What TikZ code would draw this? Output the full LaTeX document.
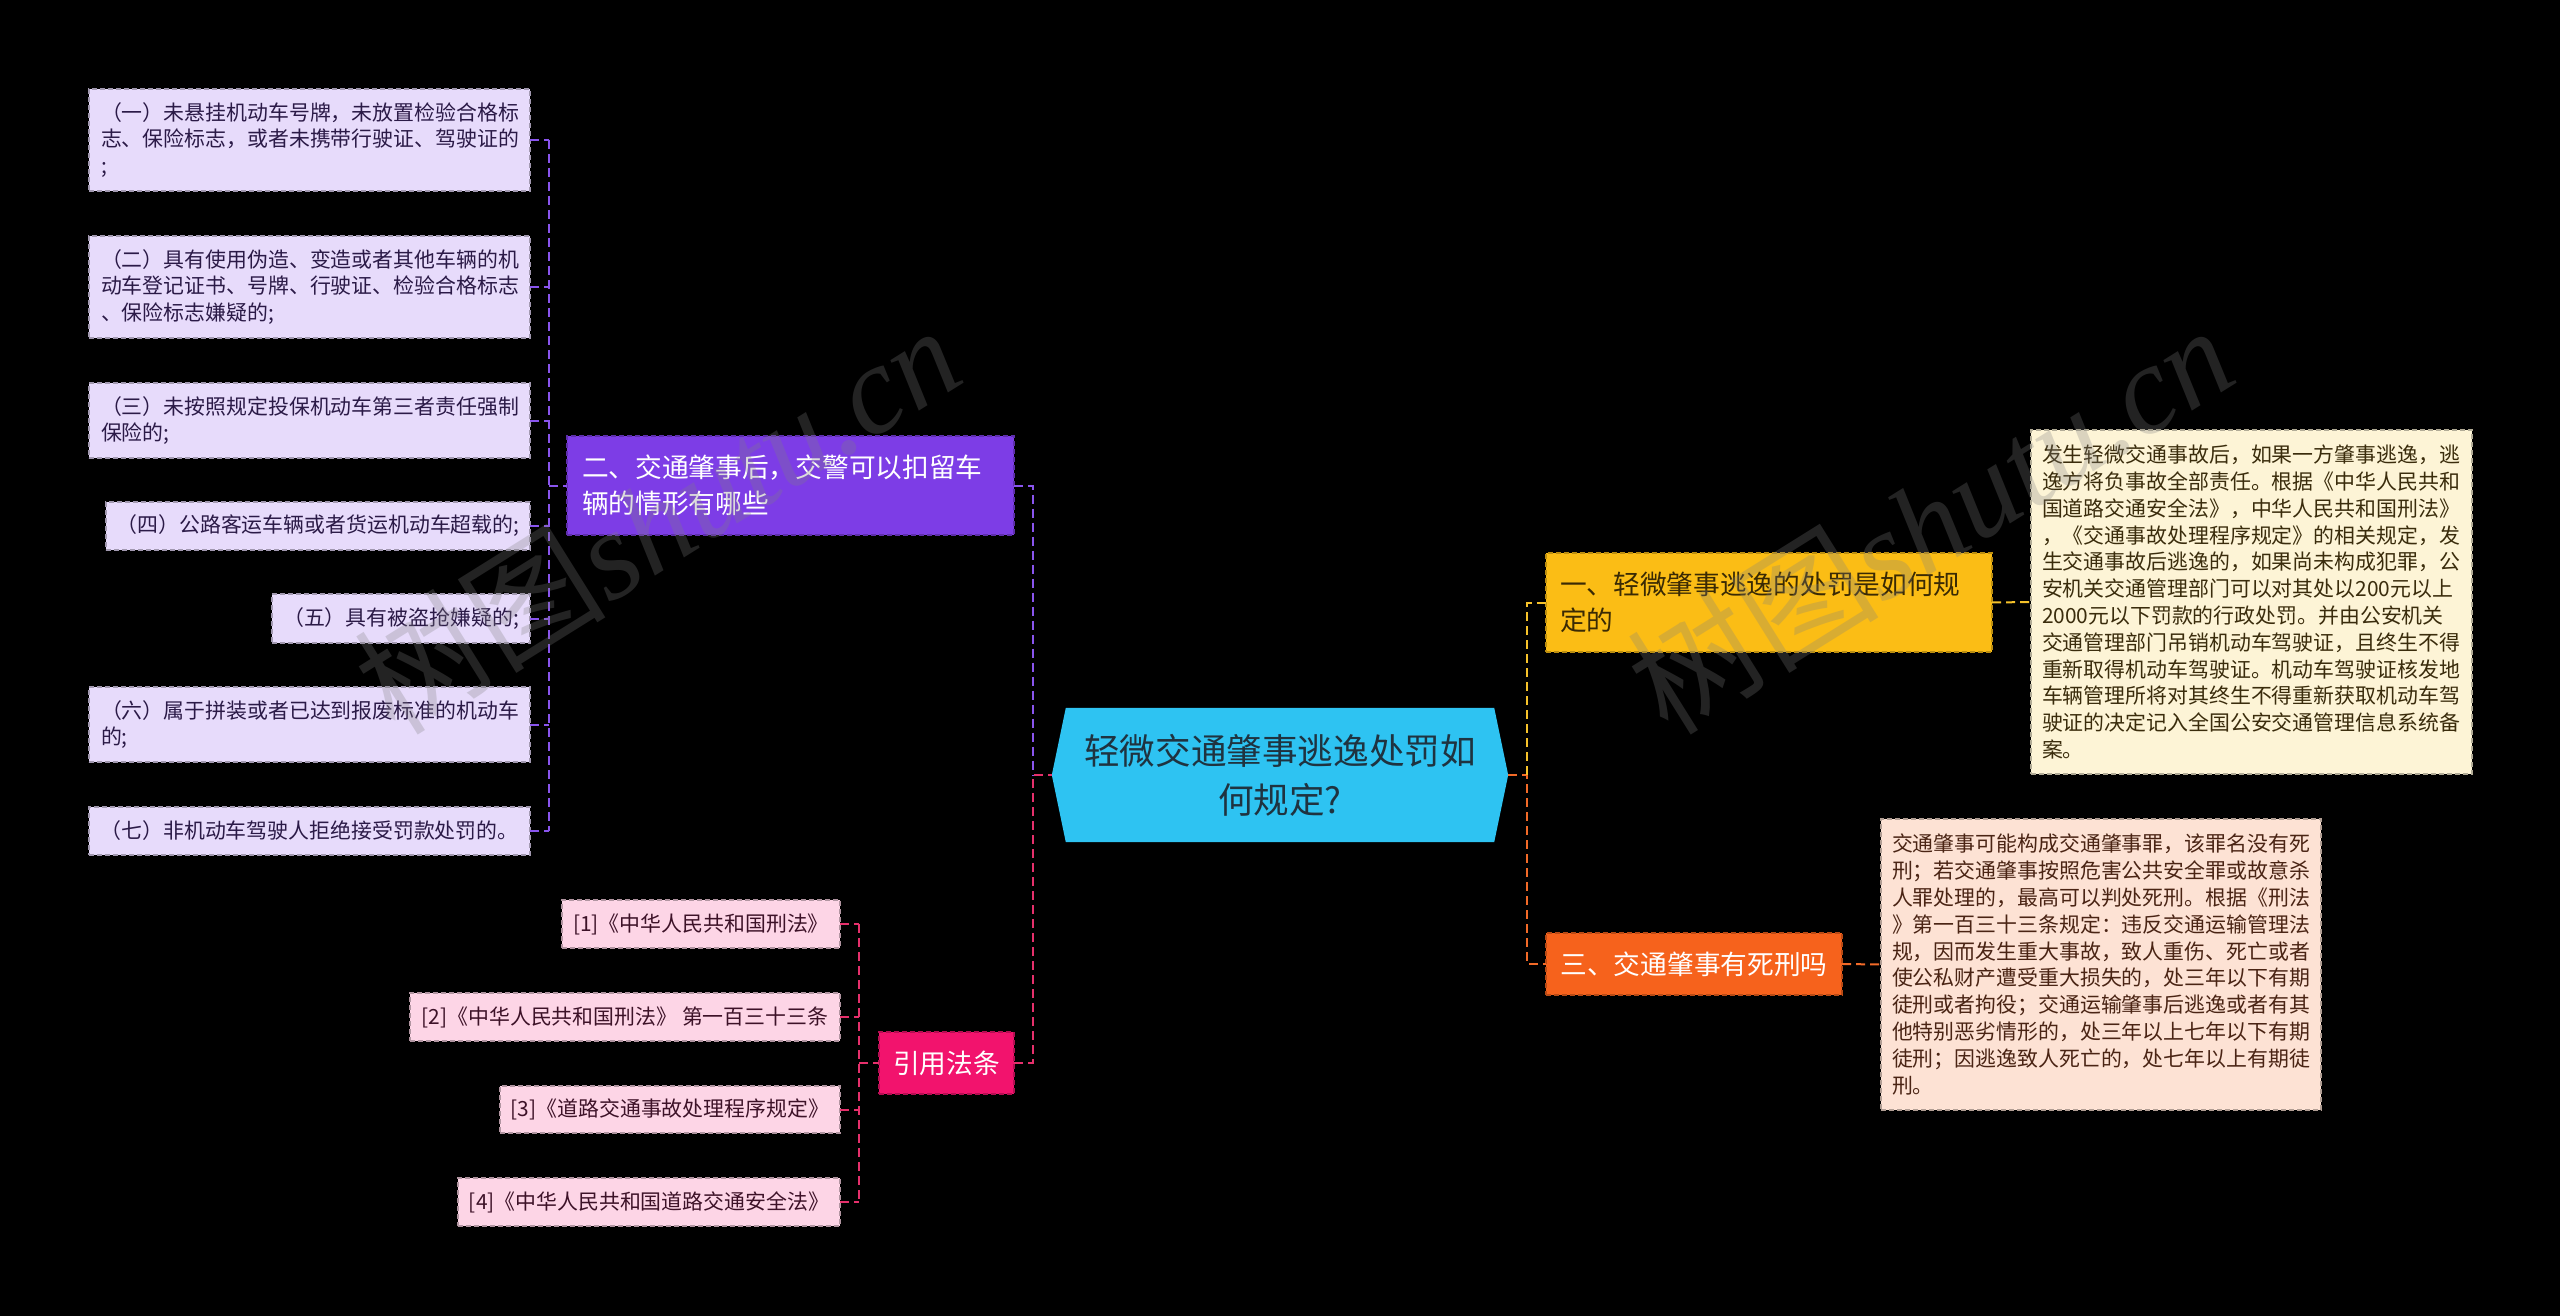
\documentclass[tikz,border=0pt]{standalone}
\usepackage{fontspec}
\setmainfont{Noto Sans CJK SC}
\newfontfamily\wmlatin{Liberation Serif}
\usetikzlibrary{calc}
\pgfdeclarelayer{bg}
\pgfsetlayers{bg,main}
\definecolor{rootF}{HTML}{2EC3F2}
\definecolor{rootT}{HTML}{1F3340}
\definecolor{purF}{HTML}{7D3DE6}
\definecolor{lavF}{HTML}{E7DBFB}
\definecolor{lavT}{HTML}{2B1A47}
\definecolor{pinkF}{HTML}{F2136D}
\definecolor{rosF}{HTML}{FDD5E6}
\definecolor{rosT}{HTML}{3D1228}
\definecolor{goldF}{HTML}{FBBD15}
\definecolor{goldT}{HTML}{3A2A04}
\definecolor{creF}{HTML}{FDF4D6}
\definecolor{creT}{HTML}{3A2C0C}
\definecolor{oraF}{HTML}{F6621C}
\definecolor{peaF}{HTML}{FDE2D4}
\definecolor{peaT}{HTML}{4A2414}
\definecolor{cP}{HTML}{8A55EE}
\definecolor{cK}{HTML}{E6306C}
\definecolor{cY}{HTML}{F6C22A}
\definecolor{cO}{HTML}{F26A28}
\newcommand\myfsS{\fontsize{20.9pt}{26.8pt}\selectfont}
\newcommand\myfsM{\fontsize{26.7pt}{36pt}\selectfont}
\newcommand\myfsL{\fontsize{35.6pt}{49pt}\selectfont}
\tikzset{
  boxbase/.style={dash pattern=on 5pt off 3pt, line width=1.2pt, inner ysep=0pt, outer sep=0pt},
  leafp/.style={boxbase, fill=lavF, draw=lavF!70!black, text=lavT, font=\myfsS, inner xsep=12pt, align=left, anchor=north west},
  leafpc/.style={boxbase, fill=lavF, draw=lavF!70!black, text=lavT, font=\myfsS, inner xsep=0pt, align=center, anchor=north west},
  refbox/.style={boxbase, fill=rosF, draw=rosF!70!black, text=rosT, font=\myfsS, inner xsep=0pt, align=center, anchor=north east},
  mainbox/.style={boxbase, font=\myfsM, align=left, anchor=north west},
  detbox/.style={boxbase, font=\myfsS, inner xsep=11pt, align=left, anchor=north west},
  conn/.style={line width=2pt, dash pattern=on 9pt off 5pt},
  wmark/.style={rotate=32, text=gray, text opacity=0.28, font=\fontsize{126pt}{126pt}\selectfont}
}
\begin{document}
\begin{tikzpicture}[x=1pt,y=-1pt]
\begin{pgfonlayer}{bg}
\fill[black] (0,0) rectangle (2560,1316);
\end{pgfonlayer}
\useasboundingbox (0,0) rectangle (2560,1316);

% root
\node[font=\myfsL, text=rootT, align=center, minimum width=456pt, minimum height=134pt, inner sep=0pt] (root) at (1280,775) {轻微交通肇事逃逸处罚如\\何规定?};
\begin{pgfonlayer}{bg}
\fill[rootF] (root.west) -- ($(root.north west)+(14,0)$) -- ($(root.north east)+(-14,0)$) -- (root.east) -- ($(root.south east)+(-14,0)$) -- ($(root.south west)+(14,0)$) -- cycle;
\end{pgfonlayer}

% left purple branch
\node[mainbox, fill=purF, draw=purF!75!black, text=white, inner xsep=15pt, text width=417pt, minimum height=99pt] (n2) at (567,436) {二、交通肇事后，交警可以扣留车\\辆的情形有哪些};

\node[leafp, text width=417pt, minimum height=102pt] (l1) at (89,89) {（一）未悬挂机动车号牌，未放置检验合格标\\志、保险标志，或者未携带行驶证、驾驶证的\\;};
\node[leafp, text width=417pt, minimum height=102pt] (l2) at (89,236) {（二）具有使用伪造、变造或者其他车辆的机\\动车登记证书、号牌、行驶证、检验合格标志\\、保险标志嫌疑的;};
\node[leafp, text width=417pt, minimum height=75pt] (l3) at (89,383) {（三）未按照规定投保机动车第三者责任强制\\保险的;};
\node[leafpc, minimum width=424pt, minimum height=48pt] (l4) at (106,502) {（四）公路客运车辆或者货运机动车超载的;};
\node[leafpc, minimum width=258pt, minimum height=49pt] (l5) at (272,594) {（五）具有被盗抢嫌疑的;};
\node[leafp, text width=417pt, minimum height=75pt] (l6) at (89,687) {（六）属于拼装或者已达到报废标准的机动车\\的;};
\node[leafpc, minimum width=441pt, minimum height=48pt] (l7) at (89,807) {（七）非机动车驾驶人拒绝接受罚款处罚的。};

\coordinate (bp) at (549,0);
\foreach \n in {l1,l2,l3,l4,l5,l6,l7}{
  \draw[conn, cP] (\n.east) -- (\n.east -| bp);
}
\draw[conn, cP] (l1.east -| bp) -- (l7.east -| bp);
\draw[conn, cP] (n2.west -| bp) -- (n2.west);

% references
\node[mainbox, fill=pinkF, draw=pinkF!75!black, text=white, anchor=center, align=center, inner xsep=0pt, minimum width=135pt, minimum height=62pt] (n4) at (946.5,1063) {引用法条};
\node[refbox, minimum width=278pt, minimum height=48pt] (r1) at (840,900) {[1]《中华人民共和国刑法》};
\node[refbox, minimum width=430pt, minimum height=48pt] (r2) at (840,993) {[2]《中华人民共和国刑法》 第一百三十三条};
\node[refbox, minimum width=340pt, minimum height=47pt] (r3) at (840,1086) {[3]《道路交通事故处理程序规定》};
\node[refbox, minimum width=382pt, minimum height=48pt] (r4) at (840,1178) {[4]《中华人民共和国道路交通安全法》};

\coordinate (bk) at (859,0);
\foreach \n in {r1,r2,r3,r4}{
  \draw[conn, cK] (\n.east) -- (\n.east -| bk);
}
\draw[conn, cK] (r1.east -| bk) -- (r4.east -| bk);
\draw[conn, cK] (n4.west -| bk) -- (n4.west);

% central connectors
\coordinate (cl) at (1033,775);
\draw[conn, cP] (n2.east) -| (cl);
\draw[conn, cK] (n4.east) -| (cl) -- (root.west);

% right side
\node[mainbox, fill=goldF, draw=goldF!75!black, text=goldT, inner xsep=14pt, text width=418pt, minimum height=99pt] (n1) at (1546,553) {一、轻微肇事逃逸的处罚是如何规\\定的};
\node[mainbox, fill=oraF, draw=oraF!75!black, text=white, align=center, inner xsep=0pt, minimum width=296pt, minimum height=62pt] (n3) at (1546,933) {三、交通肇事有死刑吗};

\node[detbox, fill=creF, draw=creF!70!black, text=creT, text width=419pt, minimum height=344pt] (d1) at (2031,430) {发生轻微交通事故后，如果一方肇事逃逸，逃\\逸方将负事故全部责任。根据《中华人民共和\\国道路交通安全法》，中华人民共和国刑法》\\，《交通事故处理程序规定》的相关规定，发\\生交通事故后逃逸的，如果尚未构成犯罪，公\\安机关交通管理部门可以对其处以200元以上\\2000元以下罚款的行政处罚。并由公安机关\\交通管理部门吊销机动车驾驶证，且终生不得\\重新取得机动车驾驶证。机动车驾驶证核发地\\车辆管理所将对其终生不得重新获取机动车驾\\驶证的决定记入全国公安交通管理信息系统备\\案。};
\node[detbox, fill=peaF, draw=peaF!70!black, text=peaT, text width=418pt, minimum height=291pt] (d2) at (1881,819) {交通肇事可能构成交通肇事罪，该罪名没有死\\刑；若交通肇事按照危害公共安全罪或故意杀\\人罪处理的，最高可以判处死刑。根据《刑法\\》第一百三十三条规定：违反交通运输管理法\\规，因而发生重大事故，致人重伤、死亡或者\\使公私财产遭受重大损失的，处三年以下有期\\徒刑或者拘役；交通运输肇事后逃逸或者有其\\他特别恶劣情形的，处三年以上七年以下有期\\徒刑；因逃逸致人死亡的，处七年以上有期徒\\刑。};

\coordinate (cr) at (1527,775);
\draw[conn, cO] (root.east) -- (cr) |- (n3.west);
\draw[conn, cY] (cr) |- (n1.west);
\draw[conn, cY] (n1.east) -- (d1.west);
\draw[conn, cO] (n3.east) -- (d2.west);

% watermarks
\node[wmark] (wm1) at (657,518) {树图{\wmlatin\itshape shutu.cn}};
\node[wmark] (wm2) at (1930,518) {树图{\wmlatin\itshape shutu.cn}};
\end{tikzpicture}
\end{document}
